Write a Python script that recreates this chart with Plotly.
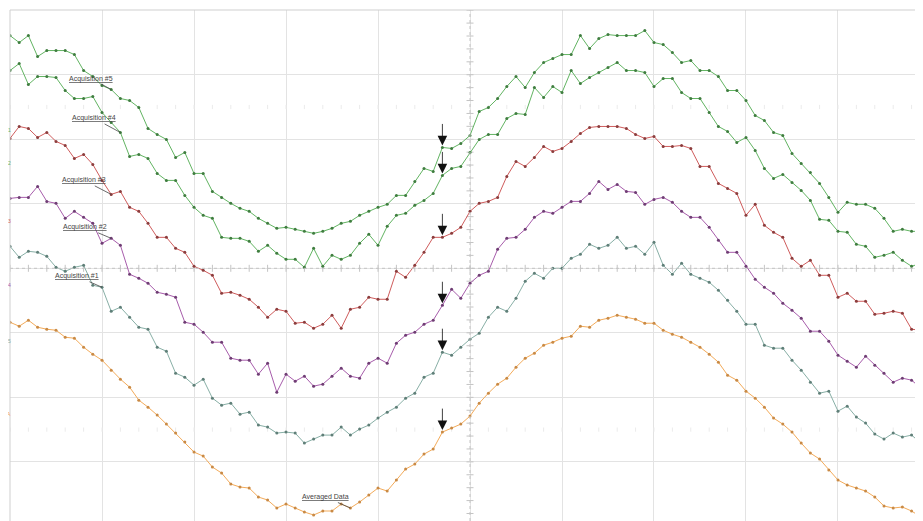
import plotly.graph_objects as go

# ---------------- data (sample index, vertical position in ADC counts; 64.6 counts / division) ----------------
SAMPLES = list(range(100))

ACQ5 = [233,226,233,212,218,218,218,214,198,192,
        183,179,170,168,161,140,134,129,111,116,
        95,95,77,71,65,60,57,50,45,40,
        41,39,37,35,37,40,45,47,53,57,
        61,64,73,73,87,100,97,121,120,125,
        133,157,161,170,182,192,181,196,206,210,
        214,214,233,220,230,234,233,233,233,238,
        226,224,216,206,208,198,198,192,178,178,
        168,153,148,136,133,115,105,96,85,71,
        56,66,64,64,60,50,37,39,37,37]

ACQ4 = [198,205,184,192,192,191,178,170,170,172,
        156,146,136,112,114,110,95,88,88,73,
        61,53,50,31,30,30,27,17,23,15,
        9,9,1,20,2,13,9,13,25,34,
        23,42,53,55,63,68,75,93,100,102,
        116,129,134,134,150,155,154,181,171,182,
        176,198,185,191,196,201,206,198,198,196,
        182,190,190,176,170,170,156,142,137,126,
        131,118,100,90,94,86,78,68,49,48,
        37,36,24,22,11,13,16,8,2,5]

ACQ3 = [130,142,140,131,136,127,123,110,114,104,
        88,74,77,61,57,45,31,31,20,16,
        2,-2,-7,-25,-24,-27,-31,-39,-49,-41,
        -43,-55,-54,-60,-56,-47,-60,-41,-39,-29,
        -31,-31,-3,-9,3,16,31,31,35,41,
        57,65,67,71,92,107,102,111,122,117,
        120,127,135,141,142,142,142,140,134,130,
        132,122,122,123,120,102,102,85,80,75,
        53,64,43,36,31,10,2,8,-7,-7,
        -29,-25,-33,-33,-46,-45,-43,-45,-61,-62]

ACQ2 = [70,71,71,82,67,65,50,57,51,45,
        25,30,23,-6,-10,-15,-24,-26,-29,-54,
        -56,-64,-74,-74,-90,-92,-92,-106,-95,-124,
        -106,-113,-108,-118,-116,-108,-100,-108,-110,-95,
        -90,-95,-75,-67,-64,-56,-52,-37,-21,-30,
        -15,-7,-3,19,30,31,39,51,57,55,
        61,67,67,75,87,79,84,77,76,64,
        69,71,66,57,51,51,41,28,16,16,
        2,-11,-19,-25,-35,-42,-50,-63,-63,-73,
        -87,-93,-99,-88,-97,-105,-114,-110,-112,-120]

ACQ1 = [22,11,17,16,12,1,-3,1,3,-17,
        -19,-43,-39,-49,-59,-61,-79,-83,-105,-109,
        -117,-111,-130,-137,-135,-146,-144,-157,-159,-165,
        -164,-165,-175,-171,-167,-167,-159,-167,-161,-157,
        -150,-144,-139,-130,-125,-109,-105,-84,-87,-79,
        -71,-65,-49,-39,-43,-30,-13,-5,-10,0,
        0,10,14,24,20,23,31,20,22,14,
        26,3,-6,5,-6,-10,-14,-22,-32,-43,
        -56,-56,-77,-80,-80,-92,-102,-114,-125,-123,
        -143,-138,-149,-155,-166,-171,-165,-169,-167,-175]

AVERAGED = [-54,-58,-52,-59,-61,-62,-69,-70,-79,-86,
            -92,-102,-111,-119,-132,-139,-147,-156,-165,-174,
            -184,-188,-199,-205,-216,-219,-220,-229,-232,-240,
            -236,-240,-244,-247,-243,-243,-236,-240,-234,-227,
            -220,-223,-212,-201,-196,-186,-181,-164,-160,-156,
            -148,-135,-125,-116,-110,-99,-90,-85,-77,-74,
            -70,-68,-58,-59,-52,-50,-47,-49,-51,-55,
            -55,-62,-66,-69,-74,-79,-86,-94,-107,-112,
            -123,-130,-139,-150,-156,-164,-175,-185,-191,-202,
            -212,-217,-220,-223,-229,-238,-240,-239,-243,-249]

TRACE_NAMES = ["Acquisition #5", "Acquisition #4", "Acquisition #3",
               "Acquisition #2", "Acquisition #1", "Averaged Data"]
LABEL_SAMPLE = [11, 12, 11, 11, 10, 37]     # sample each callout points to
TRIGGER_SAMPLE = 47                          # sample marked by the arrows
REF_LEVELS = [138, 105, 47, -17, -73, -146]  # channel reference markers on the left edge
REF_TEXT = ["1", "2", "3", "4", "5", "A"]

COUNTS_PER_DIV = 64.6
SAMPLES_PER_DIV = 10

# ---------------- styling ----------------
LINE_COLORS = ["#62b462", "#62b462", "#cf5c5c", "#a75cab", "#88afa6", "#f3ab5a"]
DOT_COLORS = ["#3f7d3f", "#3f7d3f", "#8c3d3d", "#6f3d74", "#5f7f78", "#c98a45"]
LABEL_OFFSETS = [(-20, -11), (-26, -14), (-27, -14), (-26, -11), (-25, -11), (-25, -11)]

series = [ACQ5, ACQ4, ACQ3, ACQ2, ACQ1, AVERAGED]

fig = go.Figure()

x_max = 99.24
y_lo, y_hi = -253, 258.6

# minor tick marks on the centre lines and faint marks at +/-2.5 div
center_x = 5 * SAMPLES_PER_DIV
vt = [k * COUNTS_PER_DIV / 5 for k in range(-19, 21)]
fig.add_trace(go.Scatter(x=[center_x] * len(vt), y=vt, mode="markers",
                         marker=dict(symbol="line-ew", size=5, line=dict(width=1, color="#c4c4c4")),
                         hoverinfo="skip", showlegend=False))
ht = [k * 2 for k in range(0, 50)]
fig.add_trace(go.Scatter(x=ht, y=[0] * len(ht), mode="markers",
                         marker=dict(symbol="line-ns", size=5, line=dict(width=1, color="#c4c4c4")),
                         hoverinfo="skip", showlegend=False))
for lvl in (2.5 * COUNTS_PER_DIV, -2.5 * COUNTS_PER_DIV):
    fig.add_trace(go.Scatter(x=ht, y=[lvl] * len(ht), mode="markers",
                             marker=dict(symbol="line-ns", size=3, line=dict(width=1, color="#ebebeb")),
                             hoverinfo="skip", showlegend=False))

for name, ys, lc, dc in zip(TRACE_NAMES, series, LINE_COLORS, DOT_COLORS):
    fig.add_trace(go.Scatter(x=SAMPLES, y=ys, mode="lines+markers", name=name,
                             line=dict(color=lc, width=1),
                             marker=dict(size=3, color=dc),
                             showlegend=False, hoverinfo="skip"))

annotations = []
for name, ys, idx, (ax, ay) in zip(TRACE_NAMES, series, LABEL_SAMPLE, LABEL_OFFSETS):
    annotations.append(dict(x=SAMPLES[idx], y=ys[idx], xref="x", yref="y",
                            text="<u>" + name + "</u>", showarrow=True, arrowhead=0,
                            arrowwidth=0.8, arrowcolor="#444", ax=ax, ay=ay,
                            font=dict(family="Liberation Sans, Arial", size=7, color="#444")))
for ys in series:
    annotations.append(dict(x=SAMPLES[TRIGGER_SAMPLE], y=ys[TRIGGER_SAMPLE], xref="x", yref="y",
                            text="", showarrow=True, arrowhead=2, arrowsize=2.4, arrowwidth=0.8,
                            arrowcolor="#111", ax=0, ay=-25, standoff=2))
for lvl, t, c in zip(REF_LEVELS, REF_TEXT, LINE_COLORS):
    annotations.append(dict(x=0, y=lvl, xref="paper", yref="y", xanchor="center", xshift=-1,
                            text=t, showarrow=False,
                            font=dict(family="Liberation Sans, Arial", size=5, color=c)))

shapes = [
    dict(type="line", xref="x", yref="y", x0=center_x, x1=center_x, y0=y_lo, y1=y_hi,
         line=dict(color="#c4c4c4", width=1, dash="dot")),
    dict(type="line", xref="x", yref="y", x0=0, x1=x_max, y0=0, y1=0,
         line=dict(color="#c4c4c4", width=1, dash="dot")),
    dict(type="line", xref="paper", yref="paper", x0=0, x1=1, y0=1, y1=1,
         line=dict(color="#cfcfcf", width=1)),
    dict(type="line", xref="paper", yref="paper", x0=0, x1=0, y0=0, y1=1,
         line=dict(color="#cfcfcf", width=1)),
]

# the page body adds an 8 px offset, so the figure is sized to end at the window edge
fig.update_layout(
    width=915, height=513,
    margin=dict(l=2, r=0, t=2, b=0, pad=0, autoexpand=False),
    plot_bgcolor="white", paper_bgcolor="white",
    annotations=annotations, shapes=shapes,
    hovermode=False,
    xaxis=dict(range=[0, x_max], tick0=0, dtick=SAMPLES_PER_DIV, showgrid=True,
               gridcolor="#e3e3e3", gridwidth=1, zeroline=False, showticklabels=False,
               ticks="", showline=False, fixedrange=True, automargin=False),
    yaxis=dict(range=[y_lo, y_hi], tick0=0, dtick=COUNTS_PER_DIV, showgrid=True,
               gridcolor="#e3e3e3", gridwidth=1, zeroline=False, showticklabels=False,
               ticks="", showline=False, fixedrange=True, automargin=False),
)

fig.write_html("out.html")
